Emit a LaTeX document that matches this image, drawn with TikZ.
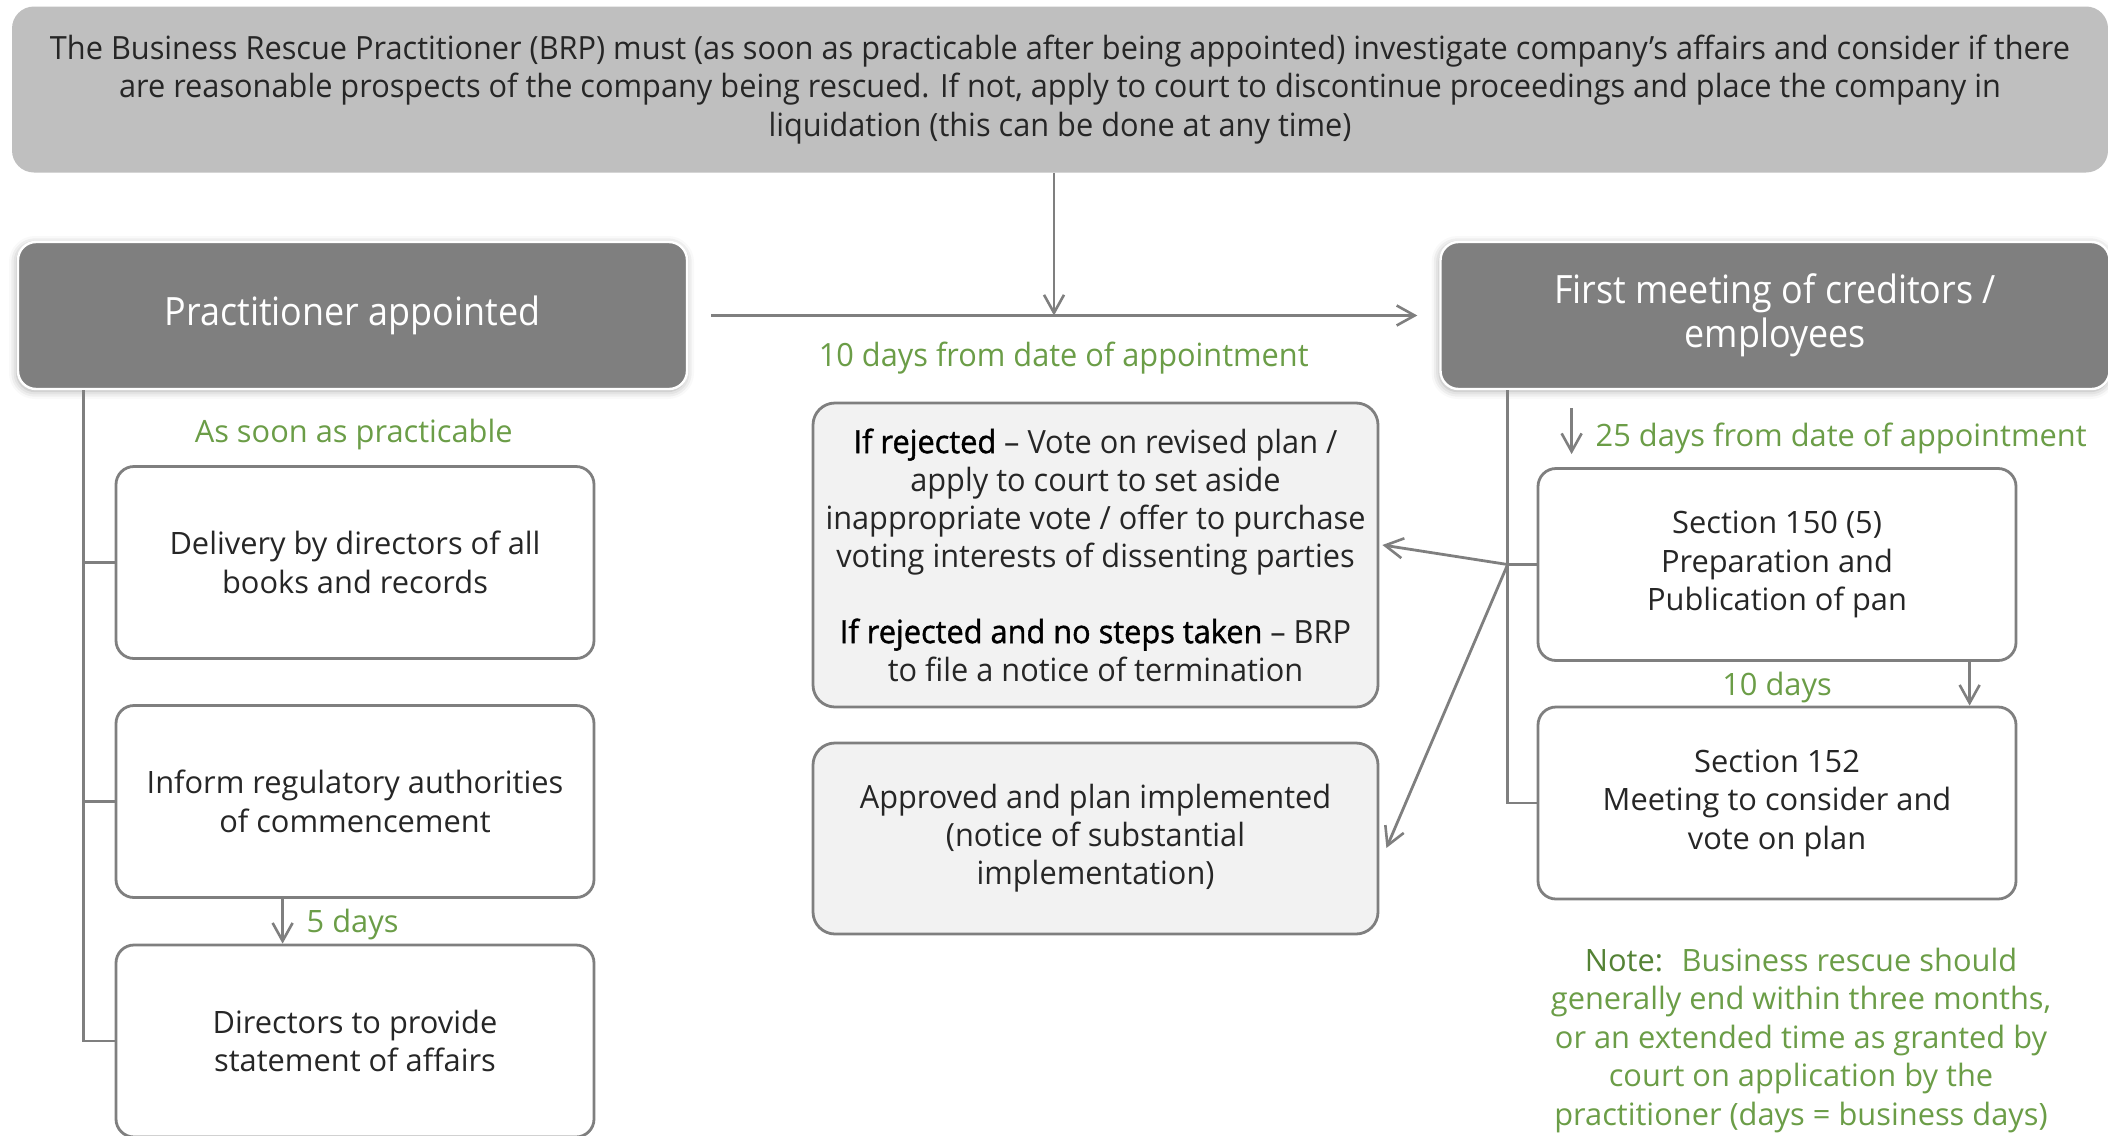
\documentclass[tikz,border=0pt]{standalone}
\usepackage{fontspec}
\setmainfont{Open Sans}
\newfontfamily\condfont[FakeStretch=0.96]{Open Sans}
\newfontfamily\condsemi[FakeStretch=0.96, FakeBold=1.2]{Open Sans}
\newfontfamily\titlefont[FakeStretch=0.92]{Open Sans}
\usetikzlibrary{arrows.meta}
\usetikzlibrary{shadows.blur}
\definecolor{linegray}{HTML}{7F7F7F}
\definecolor{topgray}{HTML}{BFBFBF}
\definecolor{panelgray}{HTML}{F2F2F2}
\definecolor{txtgreen}{HTML}{6B9D47}
\definecolor{notegreen}{HTML}{548235}
\definecolor{txtdark}{HTML}{262626}
\tikzset{
    topbox/.style={fill=topgray, rounded corners=11pt, minimum width=1048pt, minimum height=83pt, align=center, text=txtdark, font=\condfont\fontsize{16}{19.3}\selectfont},
    darkbox/.style={fill=linegray, draw=white, line width=1.2pt, rounded corners=9pt, minimum width=334.5pt, minimum height=73.5pt, align=center, text=white, font=\titlefont\fontsize{19.5}{22}\selectfont, blur shadow={shadow xshift=-0.5pt, shadow yshift=-1pt, shadow blur radius=4pt, shadow opacity=35}},
    stepbox/.style={draw=linegray, line width=1.4pt, fill=white, rounded corners=9pt, minimum width=239pt, minimum height=96pt, align=center, text=txtdark, font=\fontsize{15.4}{19.25}\selectfont},
    votebox/.style={draw=linegray, line width=1.4pt, fill=panelgray, rounded corners=11pt, minimum width=282.5pt, align=center, text=txtdark, font=\condfont\fontsize{16}{19}\selectfont},
    days/.style={text=txtgreen, font=\fontsize{15.4}{19.25}\selectfont},
    link/.style={draw=linegray, line width=1.4pt},
    arr/.style={link, -{Straight Barb[length=9pt, width=10pt, line width=1.3pt]}},
}
\begin{document}
\begin{tikzpicture}[x=0.5pt, y=-0.5pt]
    \useasboundingbox (0,0) rectangle (2108,1135);

    % top note and the two main steps
    \node[topbox] (brp) at (1060,89.5) {The Business Rescue Practitioner (BRP) must (as soon as practicable after being appointed) investigate company’s affairs and consider if there\\are reasonable prospects of the company being rescued. If not, apply to court to discontinue proceedings and place the company in\\liquidation (this can be done at any time)};
    \node[darkbox] (prac) at (352.5,315.5) {Practitioner appointed};
    \node[darkbox] (meet) at (1775,315.5) {First meeting of creditors /\\employees};

    \draw[arr, shorten <=11.5pt, shorten >=11pt] (prac.east) -- (meet.west)
        node[midway, days, font=\condfont\fontsize{16}{19}\selectfont, yshift=-21.5pt] {10 days from date of appointment};
    \draw[arr] ([xshift=-3pt]brp.south) -- ([xshift=-3pt]brp.south |- prac.east);

    % left column
    \node[stepbox] (deliv) at (355,562.5) {Delivery by directors of all\\books and records};
    \node[stepbox] (inform) at (355,801.5) {Inform regulatory authorities\\of commencement};
    \node[stepbox] (stat) at (355,1041) {Directors to provide\\statement of affairs};

    \path (prac.south) -- (deliv.north) node[midway, days, yshift=-3.5pt] (asap) {As soon as practicable};
    \draw[link] ([xshift=33.5pt]prac.south west) |- (deliv.west);
    \draw[link] ([xshift=33.5pt]prac.south west) |- (inform.west);
    \draw[link] ([xshift=33.5pt]prac.south west) |- (stat.west);
    \draw[arr] ([xshift=84pt]inform.south west) -- ([xshift=84pt]stat.north west)
        node[midway, days, anchor=west, xshift=8pt, yshift=-1.5pt] {5 days};

    % middle outcomes
    \node[votebox, minimum height=152pt] (rejected) at (1095.5,555) {{\condsemi\color{black}If rejected} – Vote on revised plan /\\apply to court to set aside\\inappropriate vote / offer to purchase\\voting interests of dissenting parties\\[19pt]{\condsemi\color{black}If rejected and no steps taken} – BRP\\to file a notice of termination};
    \node[votebox, minimum height=95.5pt] (approved) at (1095.5,838.5) {Approved and plan implemented\\(notice of substantial\\implementation)};

    % right column
    \node[stepbox] (sec150) at (1777,564.5) {Section 150 (5)\\Preparation and\\Publication of pan};
    \node[stepbox] (sec152) at (1777,803) {Section 152\\Meeting to consider and\\vote on plan};

    \draw[link] ([xshift=34pt]meet.south west) |- (sec150.west);
    \draw[link] ([xshift=34pt]meet.south west) |- (sec152.west);
    \draw[arr] ([xshift=-14.5pt]sec150.west) -- ([xshift=1.5pt,yshift=5pt]rejected.east);
    \draw[arr] ([xshift=-14.5pt]sec150.west) -- ([xshift=3.5pt,yshift=-4.75pt]approved.east);

    \draw[arr] ([xshift=17.5pt,yshift=29.5pt]sec150.north west) -- ([xshift=17.5pt,yshift=6.5pt]sec150.north west)
        node[midway, days, anchor=west, xshift=8pt, yshift=-3.5pt] {25 days from date of appointment};
    \draw[arr] ([xshift=216.5pt]sec150.south west) -- ([xshift=216.5pt]sec152.north west);
    \path (sec150.south) -- (sec152.north) node[midway, days, yshift=-2pt] (ten) {10 days};

    \node[days, align=center] (note) at (1801,1040) {{\color{notegreen}Note:}~ Business rescue should\\generally end within three months,\\or an extended time as granted by\\court on application by the\\practitioner (days = business days)};

\end{tikzpicture}
\end{document}
